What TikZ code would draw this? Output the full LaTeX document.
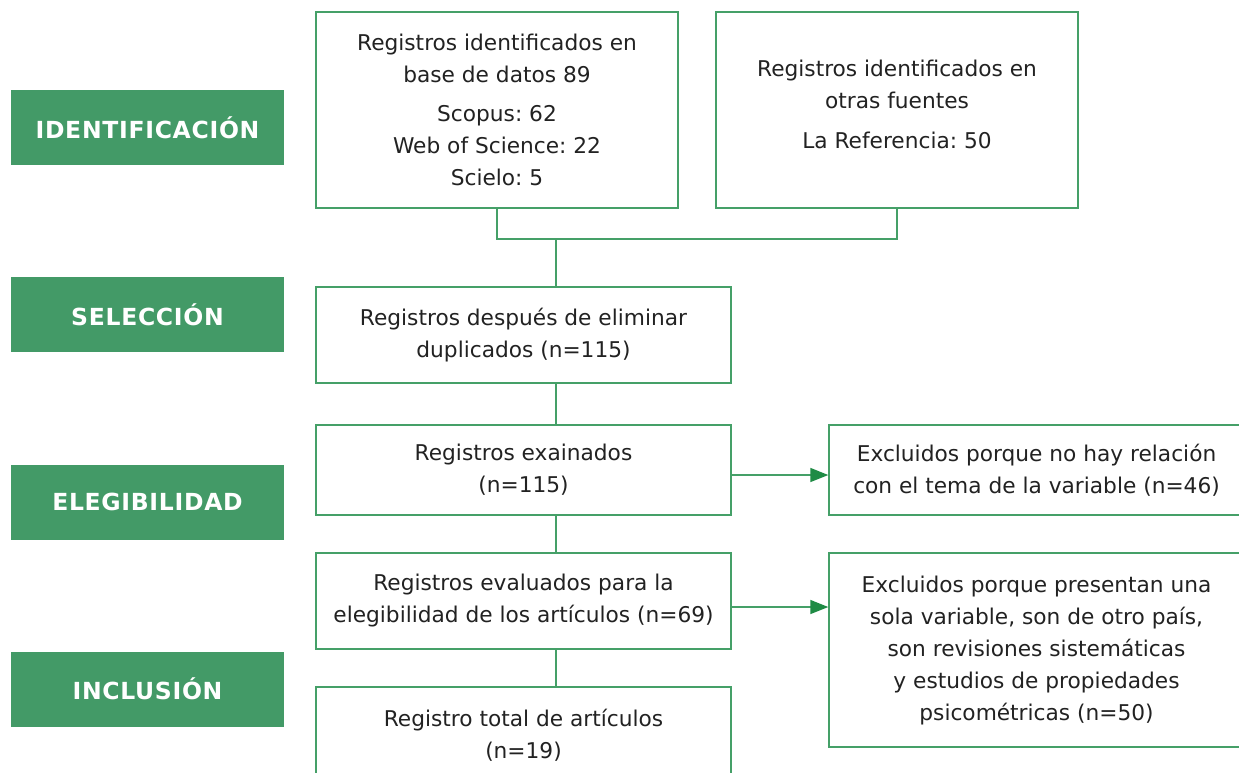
\documentclass[tikz,border=0pt]{standalone}
\usepackage{fontspec}
\setmainfont{DejaVu Sans}
\usetikzlibrary{arrows.meta,calc}
\definecolor{lblgreen}{HTML}{439A67}
\definecolor{linegreen}{HTML}{45A068}
\definecolor{tipgreen}{HTML}{1F8B45}
\definecolor{txtgray}{HTML}{222222}
\frenchspacing
\tikzset{
  stagebox/.style={fill=lblgreen, draw=none, minimum width=273pt, minimum height=75pt, inner sep=0pt,
    text=white, font=\fontsize{23.5}{28}\selectfont\bfseries\addfontfeature{LetterSpace=3}},
  flowbox/.style={draw=linegreen, line width=1.4pt, fill=white, minimum width=415pt, inner sep=0pt,
    align=center, text=txtgray, font=\fontsize{21.7}{32}\selectfont},
  topbox/.style={flowbox, minimum width=362pt, minimum height=196pt},
  conn/.style={draw=linegreen, line width=1.4pt},
  arr/.style={conn, -{Triangle[length=18pt,width=14pt,fill=tipgreen,color=tipgreen]}},
  txt/.style={align=center, text=txtgray, font=\fontsize{21.7}{32}\selectfont, inner sep=0pt}
}
\begin{document}
\begin{tikzpicture}[x=1pt,y=1pt]
\useasboundingbox (0,0) rectangle (1239,-772);
% stage labels
\node[stagebox] (s1) at (147.5,-127.5) {IDENTIFICACIÓN};
\node[stagebox] (s2) at (147.5,-314.5) {SELECCIÓN};
\node[stagebox] (s3) at (147.5,-502) {ELEGIBILIDAD};
\node[stagebox] (s4) at (147.5,-689) {INCLUSIÓN};
% top boxes
\node[topbox] (b1) at (497,-110) {Registros identificados en\\base de datos 89\\[7pt]Scopus: 62\\Web of Science: 22\\Scielo: 5};
\node[topbox] (b2) at (897,-110) {};
\node[txt] (b2t) at (897,-104) {Registros identificados en\\otras fuentes\\[8pt]La Referencia: 50};
% flow boxes
\node[flowbox, minimum height=96pt] (b3) at (523.5,-335) {Registros después de eliminar\\duplicados (n=115)};
\node[flowbox, minimum height=90pt] (b4) at (523.5,-470) {Registros exainados\\(n=115)};
\node[flowbox, minimum height=90pt] (b5) at (1036.5,-470) {Excluidos porque no hay relación\\con el tema de la variable (n=46)};
\node[flowbox, minimum height=96pt] (b6) at (523.5,-601) {Registros evaluados para la\\elegibilidad de los artículos (n=69)};
\node[flowbox, minimum height=194pt] (b7) at (1036.5,-650) {Excluidos porque presentan una\\sola variable, son de otro país,\\son revisiones sistemáticas\\y estudios de propiedades\\psicométricas (n=50)};
\node[flowbox, minimum height=96pt] (b8) at (523.5,-735) {Registro total de artículos\\(n=19)};
% connectors
\coordinate (j) at (556,-239);
\draw[conn] (b1.south) |- (j);
\draw[conn] (b2.south) |- (j);
\draw[conn] (j) -- (j |- b3.north);
\draw[conn] (j |- b3.south) -- (j |- b4.north);
\draw[conn] (j |- b4.south) -- (j |- b6.north);
\draw[conn] (j |- b6.south) -- (j |- b8.north);
\coordinate (a4) at ([yshift=-5pt]b4.east);
\coordinate (a6) at ([yshift=-6pt]b6.east);
\draw[arr] (a4) -- (a4 -| b5.west);
\draw[arr] (a6) -- (a6 -| b7.west);
\end{tikzpicture}
\end{document}
